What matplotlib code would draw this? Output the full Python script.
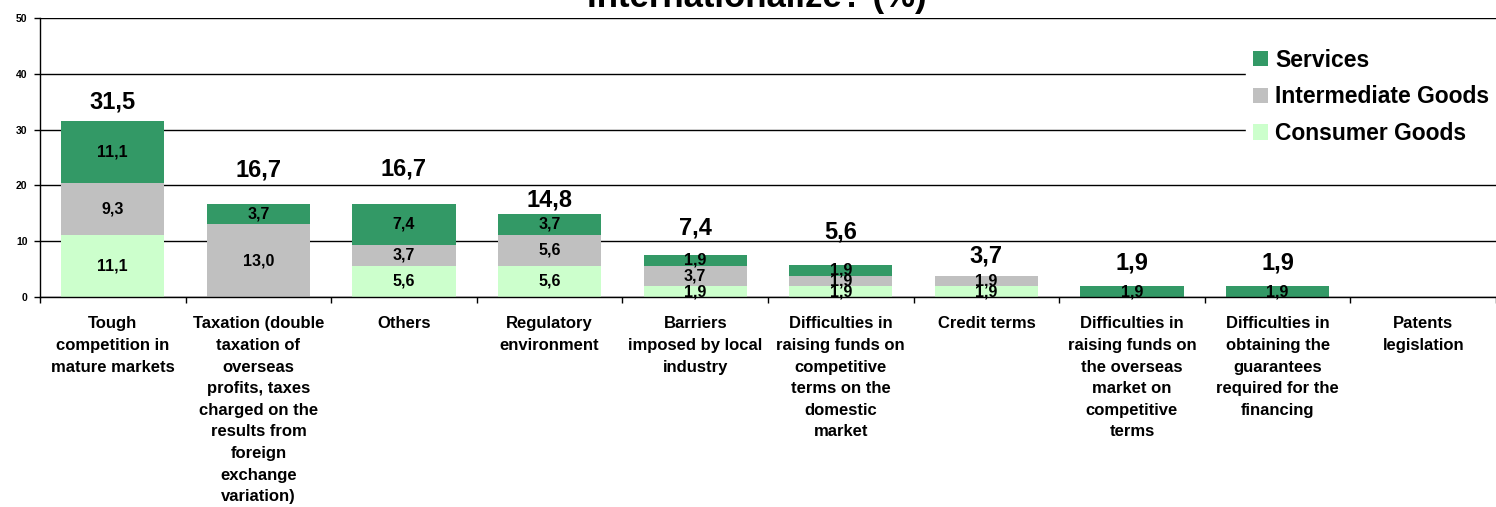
import numpy as np
import matplotlib.pyplot as plt

plt.rcParams['font.family'] = ['Liberation Sans', 'DejaVu Sans']

categories = ["Tough\ncompetition in\nmature markets",
              "Taxation (double\ntaxation of\noverseas\nprofits, taxes\ncharged on the\nresults from\nforeign\nexchange\nvariation)",
              "Others",
              "Regulatory\nenvironment",
              "Barriers\nimposed by local\nindustry",
              "Difficulties in\nraising funds on\ncompetitive\nterms on the\ndomestic\nmarket",
              "Credit terms",
              "Difficulties in\nraising funds on\nthe overseas\nmarket on\ncompetitive\nterms",
              "Difficulties in\nobtaining the\nguarantees\nrequired for the\nfinancing",
              "Patents\nlegislation"]
consumer = [11.1, 0, 5.6, 5.6, 1.9, 1.9, 1.9, 0, 0, 0]
intermediate = [9.3, 13.0, 3.7, 5.6, 3.7, 1.9, 1.9, 0, 0, 0]
services = [11.1, 3.7, 7.4, 3.7, 1.9, 1.9, 0, 1.9, 1.9, 0]
totals = [31.5, 16.7, 16.7, 14.8, 7.4, 5.6, 3.7, 1.9, 1.9, None]

# how far above the stack each total label sits (placed by hand in the original)
label_lift = [3.4, 6.1, 6.2, 2.4, 4.8, 5.9, 3.6, 4.2, 4.2, 0]

c_serv = '#339966'
c_int = '#C0C0C0'
c_cons = '#CCFFCC'

fig = plt.figure(figsize=(14.96, 5.07), dpi=100)
ax = fig.add_axes([40 / 1496, 1 - 297 / 507, 1 - 40 / 1496, 279 / 507])

x = np.arange(len(categories))
cons = np.array(consumer)
inter = np.array(intermediate)
serv = np.array(services)
w = 0.71

ax.set_axisbelow(True)
ax.bar(x, cons, w, color=c_cons, label='Consumer Goods')
ax.bar(x, inter, w, bottom=cons, color=c_int, label='Intermediate Goods')
ax.bar(x, serv, w, bottom=cons + inter, color=c_serv, label='Services')

# values inside the segments
for i in range(len(x)):
    base = 0
    for vals in (cons, inter, serv):
        v = vals[i]
        if v > 0:
            ax.text(x[i], base + v / 2, f"{v:.1f}".replace('.', ','),
                    ha='center', va='center', fontsize=11.5, fontweight='bold')
        base += v
    if totals[i] is not None:
        ax.text(x[i], base + label_lift[i], f"{totals[i]:.1f}".replace('.', ','),
                ha='center', va='center', fontsize=17, fontweight='bold')

ax.set_xlim(-0.5, len(x) - 0.5)
ax.set_ylim(0, 50)
ax.set_yticks([0, 10, 20, 30, 40, 50])
ax.yaxis.grid(True, color='black', linewidth=1)
for lbl in ax.get_yticklabels():
    lbl.set_fontsize(7.5)
    lbl.set_fontweight('bold')
ax.tick_params(axis='y', length=4, width=1, pad=5)

ax.set_xticks(x)
ax.set_xticklabels(categories, fontsize=12, fontweight='bold', linespacing=1.55)
ax.set_xticks(np.arange(len(x) + 1) - 0.5, minor=True)
ax.tick_params(axis='x', which='major', length=0, pad=14)
ax.tick_params(axis='x', which='minor', length=4, width=1)

ax.spines['right'].set_visible(False)
ax.spines['top'].set_visible(False)
ax.spines['left'].set_linewidth(1)
ax.spines['bottom'].set_linewidth(1)

h, l = ax.get_legend_handles_labels()
leg = ax.legend(h[::-1], l[::-1], loc='upper right', bbox_to_anchor=(1.0, 0.915),
                frameon=True, fancybox=False, edgecolor='white', framealpha=1,
                prop={'size': 16.5, 'weight': 'bold'}, handlelength=0.65,
                handleheight=0.65, handletextpad=0.3, labelspacing=0.6,
                borderaxespad=0.0, borderpad=0.3)

fig.text(0.506, 1 - 7 / 507, "Internationalize? (%)", ha='center',
         va='baseline', fontsize=25, fontweight='bold')

fig.savefig('out.png', dpi=100)
